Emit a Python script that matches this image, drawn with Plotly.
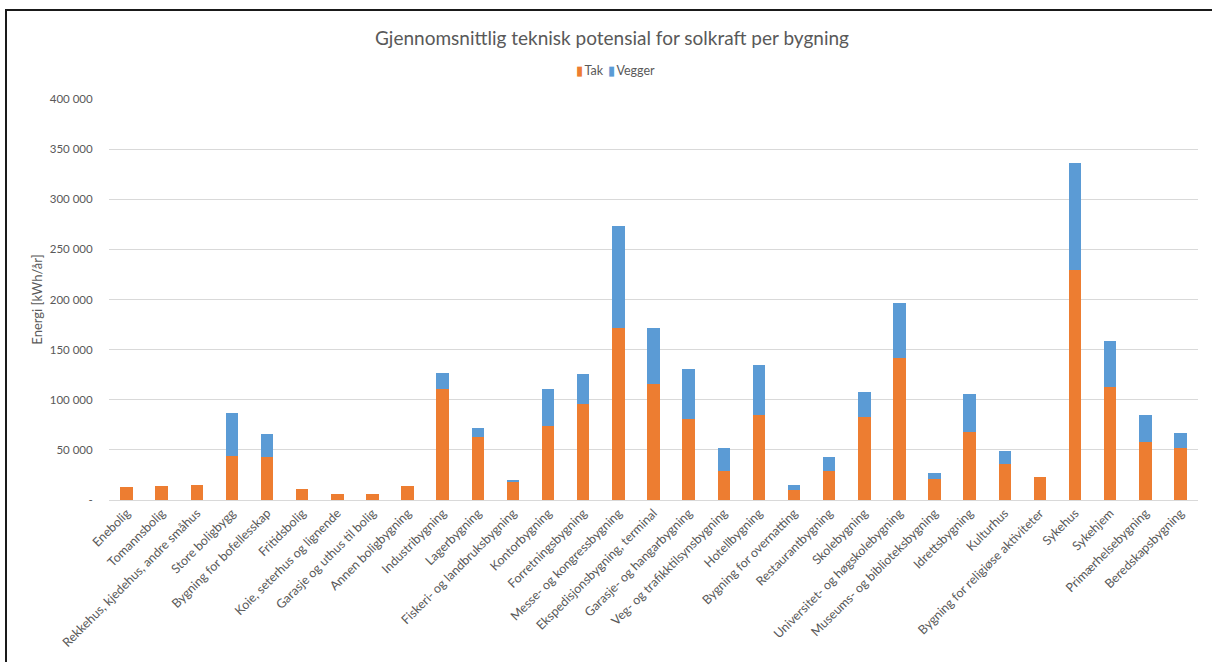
import plotly.graph_objects as go

# Bygningskategorier
kategorier = [
    "Enebolig", "Tomannsbolig", "Rekkehus, kjedehus, andre småhus", "Store boligbygg",
    "Bygning for bofellesskap", "Fritidsbolig", "Koie, seterhus og lignende",
    "Garasje og uthus til bolig", "Annen boligbygning", "Industribygning", "Lagerbygning",
    "Fiskeri- og landbruksbygning", "Kontorbygning", "Forretningsbygning",
    "Messe- og kongressbygning", "Ekspedisjonsbygning, terminal", "Garasje- og hangarbygning",
    "Veg- og trafikktilsynsbygning", "Hotellbygning", "Bygning for overnatting",
    "Restaurantbygning", "Skolebygning", "Universitet- og høgskolebygning",
    "Museums- og biblioteksbygning", "Idrettsbygning", "Kulturhus",
    "Bygning for religiøse aktiviteter", "Sykehus", "Sykehjem", "Primærhelsebygning",
    "Beredskapsbygning",
]

# Potensial på tak [kWh/år]
tak = [
    13300, 14000, 14700, 44000, 42600, 11300, 5700, 5700, 14000, 111000, 63000,
    18600, 74000, 95400, 172000, 116000, 80500, 29300, 84800, 10000,
    29000, 83200, 142000, 21000, 67500, 36200, 23000, 229700, 112300, 58000, 51400,
]

# Potensial på vegger [kWh/år]
vegger = [
    0, 0, 0, 43000, 23400, 0, 0, 0, 0, 16000, 9000,
    1700, 37000, 30600, 101000, 55500, 50200, 22600, 49900, 4600,
    14300, 24700, 54700, 5600, 38000, 12400, 0, 106100, 46000, 26400, 15400,
]

# Y-akse
y_verdier = [0, 50000, 100000, 150000, 200000, 250000, 300000, 350000, 400000]
y_tekster = ["-", "50 000", "100 000", "150 000", "200 000", "250 000", "300 000", "350 000", "400 000"]

ORANSJE = "#ED7D31"
BLA = "#5B9BD5"
GRA_TEKST = "#595959"
FONT = "Lato, 'Open Sans', sans-serif"

serier = [("Tak", tak, ORANSJE), ("Vegger", vegger, BLA)]

fig = go.Figure()
for navn, verdier, farge in serier:
    fig.add_trace(go.Bar(
        x=kategorier, y=verdier, name=navn, showlegend=False,
        marker=dict(color=farge, line=dict(width=0)),
    ))

# Kompakt tegnforklaring over plottet
tegnforklaring = "\u2009 ".join(
    f"<span style='color:{farge}'>▮</span>\u2009{navn}" for navn, _, farge in serier
)
fig.add_annotation(
    text=tegnforklaring, xref="paper", yref="paper",
    x=(615 - 109) / 1089, y=(500 - 71) / 401, xanchor="center", yanchor="middle",
    showarrow=False, font=dict(family=FONT, size=12.5, color=GRA_TEKST),
)

fig.update_layout(
    width=1212,
    height=662,
    barmode="stack",
    bargap=0.645,
    paper_bgcolor="white",
    plot_bgcolor="white",
    font=dict(family=FONT, color=GRA_TEKST, size=11),
    margin=dict(l=109, r=14, t=99, b=162),
    title=dict(
        text="Gjennomsnittlig teknisk potensial for solkraft per bygning",
        x=612 / 1212, xanchor="center", y=1 - 38 / 662, yanchor="middle",
        font=dict(family=FONT, size=19, color=GRA_TEKST),
    ),
    showlegend=False,
)

fig.update_xaxes(
    type="category",
    tickangle=-45,
    tickfont=dict(size=12.5, color=GRA_TEKST),
    showgrid=False,
    showline=True,
    linecolor="#D9D9D9",
    linewidth=1,
    ticks="",
)

fig.update_yaxes(
    range=[0, 400000],
    tickvals=y_verdier,
    ticktext=y_tekster,
    tickfont=dict(size=11.5, color=GRA_TEKST),
    showgrid=True,
    gridcolor="#D9D9D9",
    gridwidth=1,
    zeroline=False,
    showline=False,
    ticks="outside",
    ticklen=13,
    tickcolor="rgba(0,0,0,0)",
    title=dict(text="Energi [kWh/år]", font=dict(size=13, color=GRA_TEKST), standoff=4),
)

# Svart ramme rundt diagrammet
fig.add_shape(
    type="rect", xref="paper", yref="paper",
    x0=(6 - 109) / 1089, x1=(1216 - 109) / 1089,
    y0=(500 - 668) / 401, y1=(500 - 10) / 401,
    line=dict(color="#1a1a1a", width=2), fillcolor="rgba(0,0,0,0)", layer="above",
)

fig.write_html("out.html")
